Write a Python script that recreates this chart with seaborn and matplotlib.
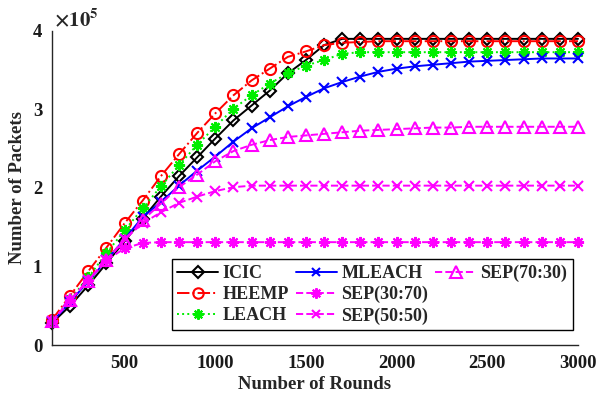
import matplotlib
matplotlib.use("Agg")
import matplotlib.pyplot as plt
from matplotlib.lines import Line2D
from matplotlib.ticker import FuncFormatter
import seaborn as sns
import pandas as pd

rounds = [100, 200, 300, 400, 500, 600, 700, 800, 900, 1000,
          1100, 1200, 1300, 1400, 1500, 1600, 1700, 1800, 1900, 2000,
          2100, 2200, 2300, 2400, 2500, 2600, 2700, 2800, 2900, 3000]

# packets received, in units of 1e5
icic = [0.28, 0.50, 0.76, 1.04, 1.32, 1.61, 1.89, 2.15, 2.39, 2.63,
        2.86, 3.05, 3.24, 3.46, 3.63, 3.82, 3.90, 3.90, 3.90, 3.90,
        3.90, 3.90, 3.90, 3.90, 3.90, 3.90, 3.90, 3.90, 3.90, 3.90]
heemp = [0.32, 0.63, 0.94, 1.24, 1.55, 1.84, 2.15, 2.43, 2.70, 2.95,
         3.18, 3.37, 3.52, 3.67, 3.74, 3.82, 3.85, 3.86, 3.87, 3.87,
         3.87, 3.87, 3.87, 3.87, 3.87, 3.87, 3.87, 3.87, 3.87, 3.87]
leach = [0.30, 0.58, 0.86, 1.17, 1.46, 1.74, 2.02, 2.29, 2.55, 2.78,
         3.01, 3.18, 3.33, 3.46, 3.56, 3.63, 3.71, 3.73, 3.73, 3.73,
         3.73, 3.73, 3.73, 3.73, 3.73, 3.73, 3.73, 3.73, 3.73, 3.73]
mleach = [0.29, 0.55, 0.81, 1.08, 1.35, 1.63, 1.82, 2.03, 2.22, 2.40,
          2.59, 2.76, 2.90, 3.04, 3.16, 3.27, 3.35, 3.42, 3.48, 3.52,
          3.55, 3.57, 3.59, 3.61, 3.62, 3.63, 3.64, 3.65, 3.65, 3.65]
sep_30_70 = [0.30, 0.57, 0.83, 1.08, 1.23, 1.30, 1.31, 1.31, 1.31, 1.31,
             1.31, 1.31, 1.31, 1.31, 1.31, 1.31, 1.31, 1.31, 1.31, 1.31,
             1.31, 1.31, 1.31, 1.31, 1.31, 1.31, 1.31, 1.31, 1.31, 1.31]
sep_50_50 = [0.30, 0.57, 0.83, 1.08, 1.35, 1.55, 1.69, 1.81, 1.89, 1.96,
             2.01, 2.03, 2.03, 2.03, 2.03, 2.03, 2.03, 2.03, 2.03, 2.03,
             2.03, 2.03, 2.03, 2.03, 2.03, 2.03, 2.03, 2.03, 2.03, 2.03]
sep_70_30 = [0.30, 0.57, 0.82, 1.08, 1.33, 1.59, 1.80, 2.01, 2.17, 2.34,
             2.47, 2.55, 2.61, 2.65, 2.67, 2.69, 2.71, 2.73, 2.74, 2.75,
             2.76, 2.77, 2.77, 2.78, 2.78, 2.78, 2.78, 2.78, 2.78, 2.78]

labels = ["ICIC", "HEEMP", "LEACH", "MLEACH", "SEP(30:70)", "SEP(50:50)", "SEP(70:30)"]
series = [icic, heemp, leach, mleach, sep_30_70, sep_50_50, sep_70_30]
x_ticks = [500, 1000, 1500, 2000, 2500, 3000]
y_ticks = [0, 1e5, 2e5, 3e5, 4e5]

asterisk = (8, 2, 0)
styles = [
    dict(color="black", linestyle="-", marker="D", mfc="none", ms=6.5),
    dict(color="red", linestyle="-.", marker="o", mfc="none", ms=8),
    dict(color="#00ee00", linestyle=":", marker=asterisk, mfc="#00ee00", ms=8),
    dict(color="blue", linestyle="-", marker="x", mfc="none", ms=6.5),
    dict(color="magenta", linestyle="--", marker=asterisk, mfc="magenta", ms=8),
    dict(color="magenta", linestyle="--", marker="x", mfc="none", ms=6.5),
    dict(color="magenta", linestyle="--", marker="^", mfc="none", ms=9),
]

sns.set_style("white")
plt.rcParams["font.family"] = ["Liberation Serif", "DejaVu Serif"]
plt.rcParams["font.weight"] = "bold"
plt.rcParams["mathtext.fontset"] = "stix"

fig = plt.figure(figsize=(6.03, 3.97), dpi=100)
ax = fig.add_axes([52 / 603, 52 / 397, 526 / 603, 314 / 397])

handles = []
for lab, vals, st in zip(labels, series, styles):
    df = pd.DataFrame({"rounds": rounds, "packets": [v * 1e5 for v in vals]})
    sns.lineplot(data=df, x="rounds", y="packets", ax=ax, color=st["color"],
                 linestyle=st["linestyle"], marker=st["marker"],
                 markerfacecolor=st["mfc"], markeredgecolor=st["color"],
                 markersize=st["ms"], markeredgewidth=1.5, linewidth=1.4,
                 clip_on=False, legend=False)
    handles.append(Line2D([], [], color=st["color"], linestyle=st["linestyle"],
                          marker=st["marker"], markerfacecolor=st["mfc"],
                          markeredgecolor=st["color"], markersize=st["ms"] - 0.5,
                          markeredgewidth=1.5, linewidth=1.4))

ax.set_xlim(100, 3000)
ax.set_ylim(0, 4e5)
ax.set_xticks(x_ticks)
ax.set_yticks(y_ticks)
ax.yaxis.set_major_formatter(FuncFormatter(lambda v, p: f"{v / 1e5:g}"))
ax.tick_params(direction="in", length=4, width=1, labelsize=13.5, pad=7,
               colors="#1a1a1a")
for lbl in ax.get_xticklabels() + ax.get_yticklabels():
    lbl.set_fontweight("bold")
for side in ("top", "right"):
    ax.spines[side].set_visible(False)
for side in ("left", "bottom"):
    ax.spines[side].set_color("#262626")
    ax.spines[side].set_linewidth(1)

ax.set_xlabel("Number of Rounds", fontsize=13.5, fontweight="bold", labelpad=3)
ax.set_ylabel("Number of Packets", fontsize=13.5, fontweight="bold", labelpad=5)
ax.text(0.003, 1.0, r"$\times 10^{5}$", transform=ax.transAxes,
        fontsize=15, ha="left", va="bottom")

# blank entries keep the third legend column to a single item
blank = Line2D([], [], linestyle="none", marker=None)
leg_handles = handles[:6] + [handles[6], blank, blank]
leg_labels = labels[:6] + [labels[6], "", ""]
leg = ax.legend(leg_handles, leg_labels, ncol=3, loc="lower right",
                bbox_to_anchor=(0.990, 0.048), borderaxespad=0,
                fancybox=False, framealpha=1, edgecolor="black",
                prop={"family": "Liberation Serif", "weight": "bold", "size": 13},
                handlelength=2.25, handletextpad=0.25, columnspacing=0.4,
                labelspacing=0.22, borderpad=0.3)
leg.get_frame().set_linewidth(1)

fig.savefig("out.png", dpi=100)
